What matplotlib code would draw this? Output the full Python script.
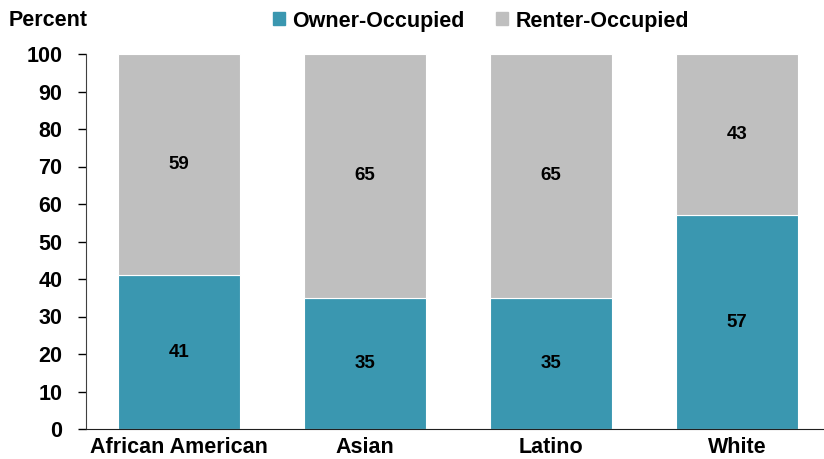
import matplotlib
matplotlib.use("Agg")
import matplotlib.pyplot as plt
from matplotlib.patches import Patch

plt.rcParams['font.family'] = ['Liberation Sans', 'DejaVu Sans']
plt.rcParams['font.weight'] = 'bold'

categories = ["African American", "Asian", "Latino", "White"]
owner = [41, 35, 35, 57]
renter = [59, 65, 65, 43]
owner_color = "#3a97b0"
renter_color = "#bfbfbf"

fig = plt.figure(figsize=(8.24, 4.59), dpi=100)
ax = fig.add_axes([86/824, 1 - 429/459, (824-86)/824, (429-54)/459])

x = list(range(len(categories)))
w = 0.66
ax.bar(x, owner, width=w, color=owner_color, edgecolor="white", linewidth=0.8)
ax.bar(x, renter, width=w, bottom=owner, color=renter_color, edgecolor="white", linewidth=0.8)

for xi, o, r in zip(x, owner, renter):
    ax.text(xi, o / 2, str(o), ha="center", va="center", fontsize=13.5, fontweight="bold")
    ax.text(xi, o + r / 2, str(r), ha="center", va="center", fontsize=13.5, fontweight="bold")

ax.set_xlim(-0.5, 3.468)
ax.set_ylim(0, 100)
ax.set_yticks(range(0, 101, 10))
ax.set_xticks(x)
ax.set_xticklabels(categories, fontsize=15.5, fontweight="bold")
ax.tick_params(axis="y", labelsize=15.5, length=6, width=1, direction="out", pad=11)
ax.tick_params(axis="x", length=0, pad=6)
for lbl in ax.get_yticklabels():
    lbl.set_fontweight("bold")
ax.spines["top"].set_visible(False)
ax.spines["right"].set_visible(False)
ax.spines["left"].set_color("#404040")
ax.spines["bottom"].set_color("#202020")

fig.text(9/824, 1 - 21/459, "Percent", fontsize=15.5, fontweight="bold", va="center", ha="left")

handles = [Patch(color=owner_color, label="Owner-Occupied"),
           Patch(color=renter_color, label="Renter-Occupied")]
fig.legend(handles=handles, loc="center", bbox_to_anchor=(481/824, 1 - 21/459), ncol=2,
           frameon=False, handlelength=0.55, handleheight=0.55,
           handletextpad=0.35, columnspacing=1.45, prop={"weight": "bold", "size": 15.5})

fig.savefig("out.png", dpi=100)
